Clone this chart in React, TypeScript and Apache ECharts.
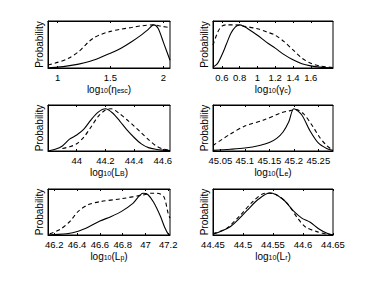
import React, { useEffect, useRef } from "react";
import * as echarts from "echarts";

// ---- data ----
const etaTicks = [1, 1.5, 2];
const etaSolid = [[0.91, 0.0], [1.0, 0.02], [1.1, 0.05], [1.2, 0.09], [1.3, 0.15], [1.4, 0.24], [1.5, 0.34], [1.6, 0.46], [1.7, 0.61], [1.8, 0.78], [1.85, 0.88], [1.91, 1.0], [1.95, 0.92], [2.0, 0.6], [2.063, 0.18]];
const etaDashed = [[0.91, 0.07], [1.0, 0.13], [1.1, 0.22], [1.2, 0.38], [1.25, 0.5], [1.3, 0.62], [1.35, 0.71], [1.4, 0.77], [1.5, 0.85], [1.6, 0.9], [1.7, 0.94], [1.8, 0.98], [1.9, 1.0], [2.0, 0.96], [2.06, 0.94]];

const gamTicks = [0.6, 0.8, 1, 1.2, 1.4, 1.6];
const gamSolid = [[0.5, 0.02], [0.55, 0.1], [0.6, 0.3], [0.65, 0.55], [0.7, 0.8], [0.75, 0.95], [0.8, 1.0], [0.85, 0.96], [0.9, 0.9], [1.0, 0.76], [1.1, 0.6], [1.2, 0.46], [1.3, 0.31], [1.4, 0.19], [1.5, 0.1], [1.6, 0.05], [1.7, 0.02], [1.85, 0.0]];
const gamDashed = [[0.5, 0.53], [0.555, 0.84], [0.6, 0.97], [0.65, 1.0], [0.75, 1.0], [0.85, 0.97], [1.0, 0.91], [1.1, 0.84], [1.2, 0.76], [1.3, 0.61], [1.4, 0.42], [1.5, 0.23], [1.6, 0.11], [1.7, 0.05], [1.85, 0.01]];

const lbTicks = [44, 44.2, 44.4, 44.6];
const lbSolid = [[43.8, 0.0], [43.85, 0.04], [43.9, 0.12], [43.95, 0.28], [44.0, 0.38], [44.05, 0.52], [44.1, 0.74], [44.15, 0.92], [44.2, 1.0], [44.25, 0.9], [44.3, 0.71], [44.35, 0.5], [44.4, 0.32], [44.45, 0.17], [44.5, 0.08], [44.55, 0.04], [44.6, 0.02], [44.65, 0.01]];
const lbDashed = [[43.9, 0.06], [43.95, 0.1], [44.0, 0.17], [44.05, 0.33], [44.1, 0.57], [44.15, 0.82], [44.2, 0.97], [44.24, 1.0], [44.3, 0.88], [44.35, 0.74], [44.4, 0.59], [44.45, 0.43], [44.5, 0.27], [44.55, 0.13], [44.6, 0.05], [44.65, 0.02]];

const leTicks = [45.05, 45.1, 45.15, 45.2, 45.25];
const leSolid = [[45.035, 0.015], [45.07, 0.04], [45.1, 0.07], [45.13, 0.13], [45.15, 0.2], [45.165, 0.3], [45.178, 0.45], [45.19, 0.7], [45.2, 1.0], [45.216, 0.86], [45.232, 0.5], [45.25, 0.19], [45.267, 0.06], [45.28, 0.015]];
const leDashed = [[45.035, 0.13], [45.07, 0.4], [45.1, 0.59], [45.14, 0.74], [45.173, 0.9], [45.19, 0.95], [45.205, 0.98], [45.22, 0.88], [45.24, 0.56], [45.253, 0.32], [45.267, 0.13], [45.28, 0.015]];

const lpTicks = [46.2, 46.4, 46.6, 46.8, 47, 47.2];
const lpSolid = [[46.145, 0.0], [46.2, 0.01], [46.31, 0.03], [46.41, 0.09], [46.5, 0.19], [46.6, 0.33], [46.7, 0.44], [46.79, 0.56], [46.89, 0.75], [46.98, 0.99], [47.02, 0.96], [47.07, 0.78], [47.13, 0.45], [47.17, 0.17], [47.2, 0.02], [47.215, 0.0]];
const lpDashed = [[46.16, 0.03], [46.25, 0.13], [46.34, 0.33], [46.41, 0.56], [46.5, 0.72], [46.6, 0.79], [46.79, 0.86], [46.98, 0.95], [47.05, 0.99], [47.1, 0.99], [47.16, 0.91], [47.2, 0.5], [47.215, 0.4]];

const lrTicks = [44.45, 44.5, 44.55, 44.6, 44.65];
const lrSolid = [[44.45, 0.02], [44.478, 0.19], [44.506, 0.57], [44.525, 0.84], [44.545, 1.0], [44.567, 0.84], [44.584, 0.57], [44.598, 0.4], [44.612, 0.3], [44.626, 0.15], [44.64, 0.04], [44.65, 0.0]];
const lrDashed = [[44.45, 0.03], [44.472, 0.15], [44.495, 0.46], [44.517, 0.8], [44.537, 0.99], [44.553, 0.97], [44.573, 0.76], [44.59, 0.42], [44.604, 0.19], [44.623, 0.08], [44.64, 0.02], [44.65, 0.01]];

const xRanges = [[0.91, 2.063], [0.5, 1.85], [43.8, 44.65], [45.035, 45.28], [46.145, 47.215], [44.45, 44.65]];
const xNames = [
  "{a|log}{s|10}{a|(η}{s|esc}{a|)}",
  "{a|log}{s|10}{a|(γ}{s|c}{a|)}",
  "{a|log}{s|10}{a|(L}{s|B}{a|)}",
  "{a|log}{s|10}{a|(L}{s|e}{a|)}",
  "{a|log}{s|10}{a|(L}{s|p}{a|)}",
  "{a|log}{s|10}{a|(L}{s|r}{a|)}",
];
const yName = "Probability";

const FONT = '"Liberation Sans", Arial, Helvetica, sans-serif';

export default function App() {
  const ref = useRef<HTMLDivElement>(null);
  useEffect(() => {
    if (!ref.current) return;
    const chart = echarts.init(ref.current, null, { renderer: "svg" });
    const panels = [
      { solid: etaSolid, dashed: etaDashed, ticks: etaTicks },
      { solid: gamSolid, dashed: gamDashed, ticks: gamTicks },
      { solid: lbSolid, dashed: lbDashed, ticks: lbTicks },
      { solid: leSolid, dashed: leDashed, ticks: leTicks },
      { solid: lpSolid, dashed: lpDashed, ticks: lpTicks },
      { solid: lrSolid, dashed: lrDashed, ticks: lrTicks },
    ];
    const lefts = [48, 213];
    const widths = [122, 120];
    const tops = [21, 105, 189];
    const heights = [47, 46, 46];

    const grid: any[] = [];
    const xAxis: any[] = [];
    const yAxis: any[] = [];
    const series: any[] = [];
    panels.forEach((p, i) => {
      const c = i % 2;
      const r = Math.floor(i / 2);
      grid.push({
        left: lefts[c], top: tops[r], width: widths[c], height: heights[r],
        show: true, borderColor: "#000", borderWidth: 1, backgroundColor: "transparent",
      });
      const [mn, mx] = xRanges[i];
      xAxis.push({
        type: "value", gridIndex: i, min: mn, max: mx, position: "bottom",
        axisLine: { show: true, lineStyle: { color: "#000", width: 1 } },
        axisTick: { show: true, inside: true, length: 2, customValues: p.ticks, lineStyle: { color: "#000" } },
        axisLabel: { show: true, customValues: p.ticks, fontSize: 9.5, color: "#000", fontFamily: FONT, margin: 4 },
        splitLine: { show: false },
        name: xNames[i], nameLocation: "middle", nameGap: 16, nameMoveOverlap: false,
        nameTextStyle: {
          color: "#000", fontFamily: FONT,
          rich: {
            a: { fontSize: 10, lineHeight: 10, verticalAlign: "top", color: "#000", fontFamily: FONT },
            s: { fontSize: 7, lineHeight: 7, padding: [7, 0, 0, 0], verticalAlign: "bottom", color: "#000", fontFamily: FONT },
          },
        },
      });
      xAxis.push({
        type: "value", gridIndex: i, min: mn, max: mx, position: "top",
        axisLine: { show: true, lineStyle: { color: "#000", width: 1 } },
        axisTick: { show: true, inside: true, length: 2, customValues: p.ticks, lineStyle: { color: "#000" } },
        axisLabel: { show: false },
        splitLine: { show: false },
      });
      yAxis.push({
        type: "value", gridIndex: i, min: 0, max: 1.09,
        axisLine: { show: true, lineStyle: { color: "#000", width: 1 } },
        axisTick: { show: false }, axisLabel: { show: false }, splitLine: { show: false },
        name: yName, nameLocation: "middle", nameGap: 4, nameMoveOverlap: false,
        nameTextStyle: { fontSize: 10, color: "#000", fontFamily: FONT },
      });
      series.push({
        type: "line", xAxisIndex: 2 * i, yAxisIndex: i, data: p.solid,
        symbol: "none", smooth: 0.3, lineStyle: { color: "#000", width: 1.1 },
      });
      series.push({
        type: "line", xAxisIndex: 2 * i, yAxisIndex: i, data: p.dashed,
        symbol: "none", smooth: 0.3, lineStyle: { color: "#000", width: 1.1, type: [4, 3] },
      });
    });

    chart.setOption({
      animation: false,
      backgroundColor: "#fff",
      grid, xAxis, yAxis, series,
    });
    return () => chart.dispose();
  }, []);
  return (
    <div
      ref={ref}
      style={{ position: "absolute", left: 0, top: 0, width: 374, height: 281 }}
    />
  );
}
